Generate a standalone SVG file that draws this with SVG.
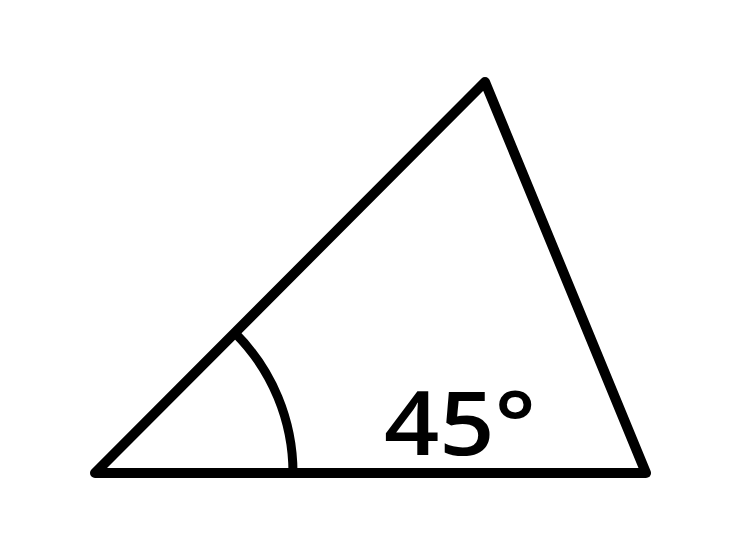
<svg xmlns="http://www.w3.org/2000/svg" width="740" height="555" viewBox="0 0 740 555">
<style>
.ln{fill:none;stroke:#000;stroke-width:10;stroke-linejoin:round;stroke-linecap:round}
.lbl{font-family:"Open Sans","Liberation Sans",Arial,sans-serif;font-weight:600;font-size:88px;fill:#000}
</style>
<rect width="740" height="555" fill="#fff"/>
<g id="triangle">
<polygon class="ln" points="95,473 485,82 646,473"/>
</g>
<g id="angle-arc">
<path class="ln" style="stroke-width:9;stroke-linecap:butt" d="M293,473 A198,198 0 0 0 235,333"/>
</g>
<g id="label">
<text class="lbl" x="384" y="455" textLength="152" lengthAdjust="spacingAndGlyphs">45°</text>
</g>
</svg>
